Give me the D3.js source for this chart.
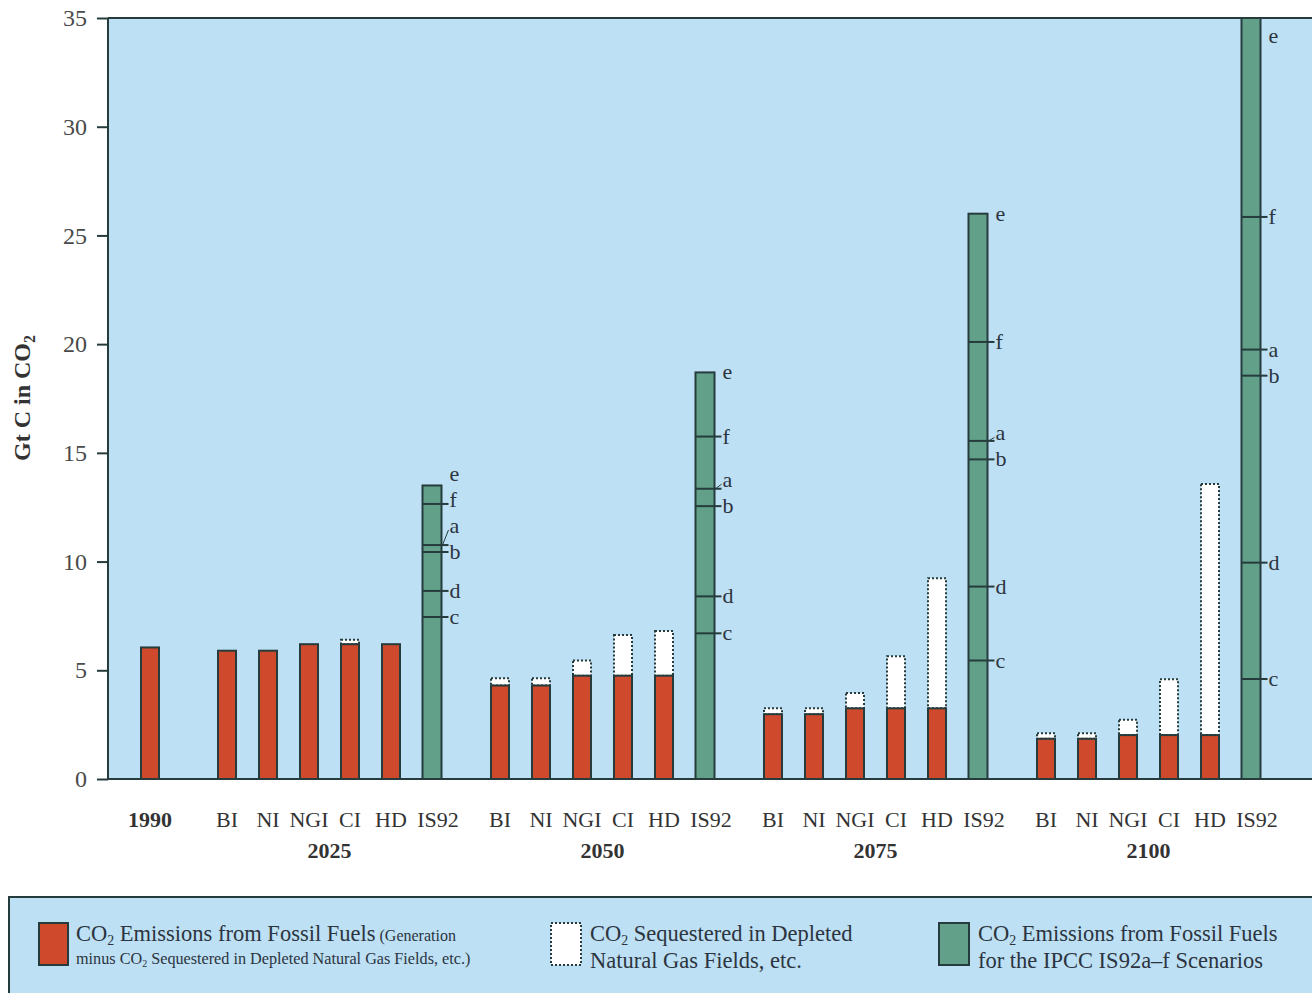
<!DOCTYPE html>
<html><head><meta charset="utf-8">
<script src="https://cdn.jsdelivr.net/npm/d3@7"></script>
<style>body{margin:0;background:#fff}svg{display:block}</style>
</head><body>
<svg id="c" width="1312" height="993"></svg>
<script>
// ---------------- data ----------------
const yTicks = [0, 5, 10, 15, 20, 25, 30, 35];
const years = ["2025", "2050", "2075", "2100"];
const scenarios = ["BI", "NI", "NGI", "CI", "HD", "IS92"];
const redScenarios = ["BI", "NI", "NGI", "CI", "HD"];
const base1990 = 6.05;
// CO2 emissions from fossil fuels (generation minus sequestered)
const emitted = {
  "2025": [5.9, 5.9, 6.2, 6.2, 6.2],
  "2050": [4.3, 4.3, 4.75, 4.75, 4.75],
  "2075": [2.98, 2.98, 3.25, 3.25, 3.25],
  "2100": [1.85, 1.85, 2.02, 2.02, 2.02]
};
// CO2 sequestered in depleted natural gas fields (stacked on top)
const sequestered = {
  "2025": [0, 0, 0, 0.2, 0],
  "2050": [0.33, 0.33, 0.7, 1.87, 2.06],
  "2075": [0.27, 0.27, 0.7, 2.4, 5.98],
  "2100": [0.25, 0.25, 0.7, 2.57, 11.55]
};
// IPCC IS92a-f scenario values
const is92Keys = ["e", "f", "a", "b", "d", "c"];
const is92 = {
  "2025": [13.5, 12.65, 10.76, 10.44, 8.65, 7.45],
  "2050": [18.7, 15.75, 13.35, 12.55, 8.4, 6.7],
  "2075": [26.0, 20.1, 15.55, 14.7, 8.85, 5.45],
  "2100": [35.0, 25.85, 19.75, 18.55, 9.95, 4.6]
};

// ---------------- style ----------------
const C = {bg:"#bde0f4", red:"#cf4a2d", green:"#62a089", line:"#263c3c", text:"#2c3440"};
const SERIF = "'Liberation Serif','Times New Roman',serif";

const svg = d3.select("#c");
const L = 108, T = 18, R = 1312, B = 779;

const y = d3.scaleLinear().domain([0, 35]).range([B, T]);
const xg = d3.scaleBand().domain(years).range([206.5, 1271.5]).paddingInner(27/273);
const xs = d3.scaleBand().domain(scenarios).range([0, xg.bandwidth()]);
const x1990 = d3.scaleBand().domain(["1990"]).range([129.5, 170.5]);
const BW = 18;

// plot background
svg.append("rect").attr("x", L).attr("y", T).attr("width", R - L).attr("height", B - T).attr("fill", C.bg);

svg.append("clipPath").attr("id", "pc").append("rect")
  .attr("x", L).attr("y", T).attr("width", R - L).attr("height", B - T);
const g = svg.append("g").attr("clip-path", "url(#pc)");

// 1990 bar
g.append("rect").attr("x", x1990("1990") + x1990.bandwidth()/2 - BW/2).attr("y", y(base1990))
  .attr("width", BW).attr("height", y(0) - y(base1990))
  .attr("fill", C.red).attr("stroke", C.line).attr("stroke-width", 2);

years.forEach(yr => {
  const gx = xg(yr);
  redScenarios.forEach((s, i) => {
    const cx = gx + xs(s) + xs.bandwidth()/2;
    const e = emitted[yr][i], q = sequestered[yr][i];
    if (q > 0) {
      g.append("rect").attr("x", cx - BW/2).attr("y", y(e + q)).attr("width", BW)
        .attr("height", y(e) - y(e + q)).attr("fill", "#ffffff")
        .attr("stroke", C.line).attr("stroke-width", 2).attr("stroke-dasharray", "2,2");
    }
    g.append("rect").attr("x", cx - BW/2).attr("y", y(e)).attr("width", BW)
      .attr("height", y(0) - y(e)).attr("fill", C.red).attr("stroke", C.line).attr("stroke-width", 2);
  });
  // IS92 bar
  const cx = gx + xs("IS92") + xs.bandwidth()/2;
  const vals = is92[yr];
  const top = d3.max(vals);
  const w = 19;
  g.append("rect").attr("x", cx - w/2).attr("y", y(top)).attr("width", w)
    .attr("height", y(0) - y(top)).attr("fill", C.green).attr("stroke", C.line).attr("stroke-width", 2);
  // markers & labels
  const items = is92Keys.map((k, i) => ({k, v: vals[i], py: y(vals[i])}))
    .sort((a, b) => a.v - b.v);
  let prev = null;
  items.forEach(it => {
    let ly = it.py;
    if (prev !== null && ly > prev - 26) ly = prev - 26;
    ly = Math.max(ly, T + 18);
    it.ly = ly; prev = ly;
  });
  items.forEach(it => {
    if (it.v < top) {
      g.append("line").attr("x1", cx - w/2).attr("x2", cx + w/2 + 7)
        .attr("y1", it.py).attr("y2", it.py).attr("stroke", C.line).attr("stroke-width", 2);
    }
    if (it.py - it.ly > 6 && it.v < top) {
      g.append("line").attr("x1", cx + w/2 + 1).attr("y1", it.py)
        .attr("x2", cx + w/2 + 7).attr("y2", it.ly + 4).attr("stroke", C.line).attr("stroke-width", 1);
    }
    g.append("text").attr("x", cx + w/2 + 8).attr("y", it.ly).attr("dy", "0.32em")
      .attr("font-family", SERIF).attr("font-size", 22).attr("fill", C.text).text(it.k);
  });
});

// axes lines
svg.append("line").attr("x1", L).attr("x2", L).attr("y1", T).attr("y2", B).attr("stroke", C.line).attr("stroke-width", 2);
svg.append("line").attr("x1", L).attr("x2", R).attr("y1", B).attr("y2", B).attr("stroke", C.line).attr("stroke-width", 2);
svg.append("line").attr("x1", L).attr("x2", R).attr("y1", T).attr("y2", T).attr("stroke", C.line).attr("stroke-width", 2);

// y axis
const ya = d3.axisLeft(y).tickValues(yTicks).tickSize(11).tickPadding(10).tickFormat(d3.format("d"));
const yg = svg.append("g").attr("transform", `translate(${L},0)`).call(ya);
yg.select(".domain").remove();
yg.selectAll(".tick line").attr("stroke", C.line).attr("stroke-width", 2);
yg.selectAll(".tick text").attr("font-family", SERIF).attr("font-size", 24).attr("fill", "#4a4a4a");

svg.append("text").attr("transform", "translate(30,398) rotate(-90)").attr("text-anchor", "middle")
  .attr("font-family", SERIF).attr("font-size", 24).attr("font-weight", "bold").attr("fill", "#333")
  .call(t => { t.append("tspan").text("Gt C in CO");
               t.append("tspan").attr("font-size", 16).attr("dy", 5).text("2"); });

// x labels
svg.append("text").attr("x", x1990("1990") + x1990.bandwidth()/2).attr("y", 827).attr("text-anchor", "middle")
  .attr("font-family", SERIF).attr("font-size", 22).attr("font-weight", "bold").attr("fill", "#333").text("1990");
years.forEach(yr => {
  scenarios.forEach(s => {
    svg.append("text").attr("x", xg(yr) + xs(s) + xs.bandwidth()/2 + (s === "IS92" ? 6 : 0)).attr("y", 827)
      .attr("text-anchor", "middle").attr("font-family", SERIF).attr("font-size", 22).attr("fill", "#333").text(s);
  });
  svg.append("text").attr("x", xg(yr) + (xs("BI") + xs("IS92") + xs.bandwidth())/2).attr("y", 858)
    .attr("text-anchor", "middle").attr("font-family", SERIF).attr("font-size", 22).attr("font-weight", "bold")
    .attr("fill", "#333").text(yr);
});

// legend
svg.append("rect").attr("x", 9).attr("y", 897).attr("width", R + 10).attr("height", 120)
  .attr("fill", C.bg).attr("stroke", C.line).attr("stroke-width", 2);

function co2(t, size, rest) {
  t.append("tspan").text("CO");
  t.append("tspan").attr("font-size", size * 0.62).attr("dy", size * 0.16).text("2");
  t.append("tspan").attr("dy", -size * 0.16).text(rest);
}
const L1 = 941, L2 = 968, LS = 964;
// item 1
svg.append("rect").attr("x", 39).attr("y", 923).attr("width", 29).attr("height", 42)
  .attr("fill", C.red).attr("stroke", C.line).attr("stroke-width", 2);
svg.append("text").attr("x", 76).attr("y", L1).attr("font-family", SERIF).attr("font-size", 22.5).attr("fill", C.text)
  .call(t => { co2(t, 22.5, " Emissions from Fossil Fuels");
               t.append("tspan").attr("font-size", 16).text(" (Generation"); });
svg.append("text").attr("x", 76).attr("y", LS).attr("font-family", SERIF).attr("font-size", 16.2).attr("fill", C.text)
  .call(t => { t.append("tspan").text("minus ");
               co2(t, 16.2, " Sequestered in Depleted Natural Gas Fields, etc.)"); });
// item 2
svg.append("rect").attr("x", 551).attr("y", 923).attr("width", 30).attr("height", 42)
  .attr("fill", "#fff").attr("stroke", C.line).attr("stroke-width", 2).attr("stroke-dasharray", "2,2");
svg.append("text").attr("x", 590).attr("y", L1).attr("font-family", SERIF).attr("font-size", 22.5).attr("fill", C.text)
  .call(t => co2(t, 22.5, " Sequestered in Depleted"));
svg.append("text").attr("x", 590).attr("y", L2).attr("font-family", SERIF).attr("font-size", 22.5).attr("fill", C.text)
  .text("Natural Gas Fields, etc.");
// item 3
svg.append("rect").attr("x", 939).attr("y", 923).attr("width", 30).attr("height", 42)
  .attr("fill", C.green).attr("stroke", C.line).attr("stroke-width", 2);
svg.append("text").attr("x", 978).attr("y", L1).attr("font-family", SERIF).attr("font-size", 22.5).attr("fill", C.text)
  .call(t => co2(t, 22.5, " Emissions from Fossil Fuels"));
svg.append("text").attr("x", 978).attr("y", L2).attr("font-family", SERIF).attr("font-size", 22.5).attr("fill", C.text)
  .text("for the IPCC IS92a–f Scenarios");
</script>
</body></html>
